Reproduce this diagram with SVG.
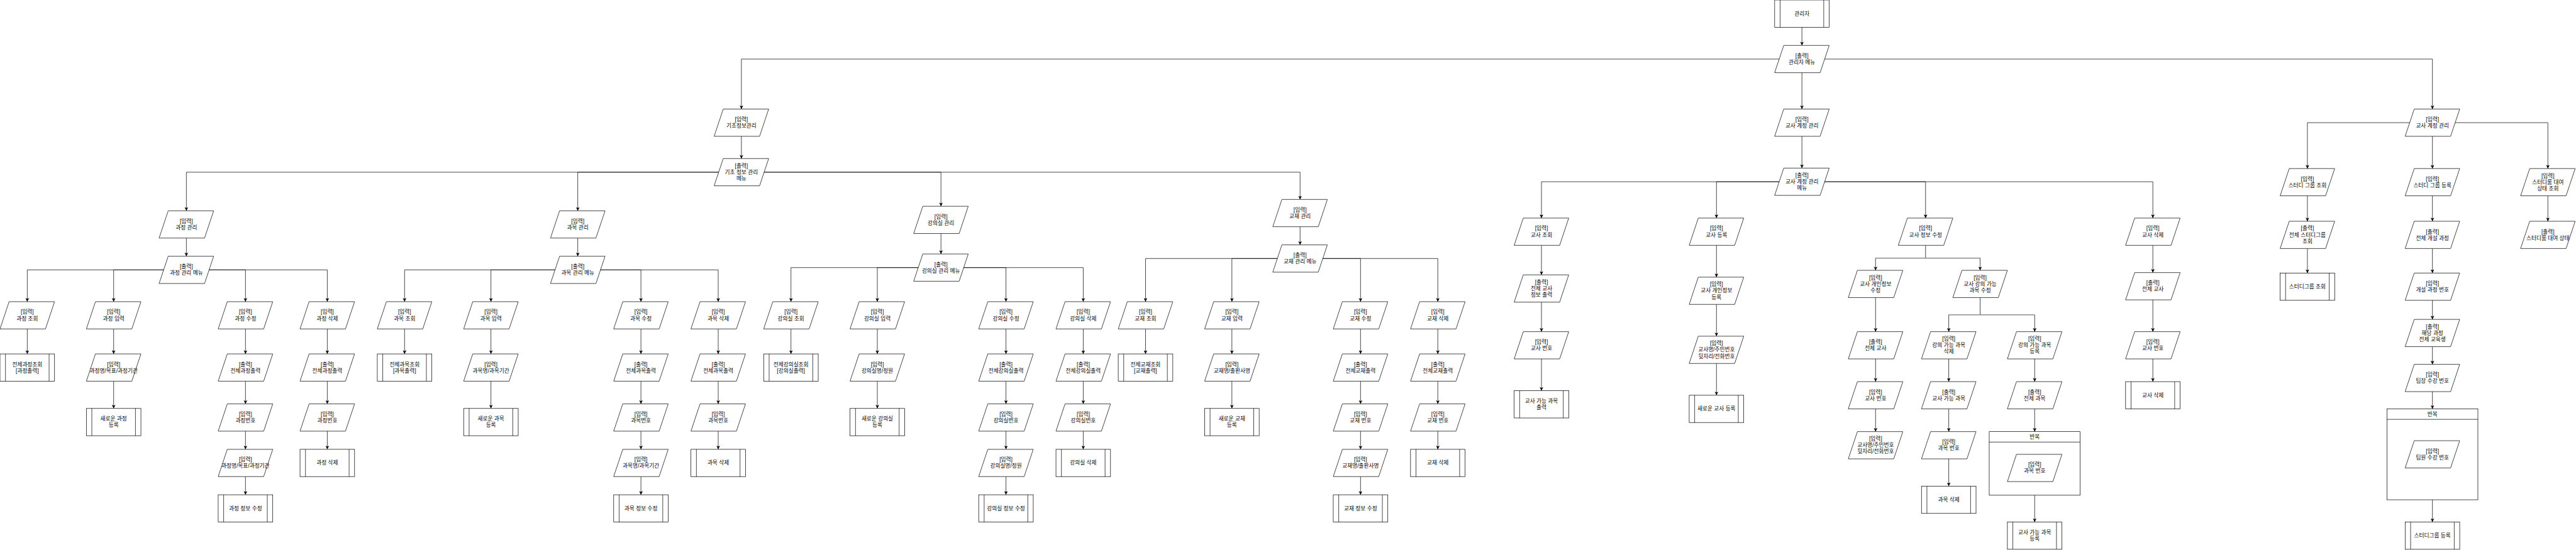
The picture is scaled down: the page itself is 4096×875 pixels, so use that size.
<svg xmlns="http://www.w3.org/2000/svg" xmlns:xlink="http://www.w3.org/1999/xlink" width="4096" height="875" viewBox="0 0 4096 875">
<style>
.s{fill:#fff;stroke:#000;stroke-width:1}
.c path{fill:none;stroke:#000;stroke-width:1;marker-end:url(#ar)}
.c path.n{marker-end:none}
.c path.g{marker-end:none;stroke:#777;stroke-width:1.6}
text{font-family:"Liberation Sans","Noto Sans CJK KR",sans-serif;font-size:12px;text-anchor:middle;fill:#000}
</style>
<defs>
<path id="pa" d="M20,0 H120 L100,60 H0 Z"/>
<g id="pp"><rect width="120" height="60"/><path d="M12,0 V60 M108,0 V60"/></g>
<marker id="ar" viewBox="0 0 8 8" refX="8" refY="4" markerWidth="8" markerHeight="8" orient="auto" markerUnits="userSpaceOnUse"><path d="M0,0 L8,4 L0,8 L2,4 Z" fill="#000"/></marker>
</defs>
<rect width="4096" height="875" fill="#fff"/>
<g transform="scale(0.7228)">
<g class="c" id="connectors">
<path d="M3964,60 V100"/>
<path d="M3964,130 H1631 V240"/>
<path d="M3964,160 V240"/>
<path d="M3964,130 H5351 V240"/>
<path d="M1631,300 V349"/>
<path d="M3964,300 V370"/>
<path d="M1631,379 H410 V464"/>
<path d="M1631,379 H1271 V464"/>
<path d="M1631,379 H2070 V454"/>
<path d="M1631,379 H2860 V439"/>
<path d="M410,524 V564"/>
<path d="M410,594 H60 V664"/>
<path d="M410,594 H250 V664"/>
<path d="M410,594 H540 V664"/>
<path d="M410,594 H720 V664"/>
<path d="M60,724 V779"/>
<path d="M250,724 V779"/>
<path d="M250,839 V899"/>
<path d="M540,724 V779"/>
<path d="M540,839 V889"/>
<path d="M540,949 V989"/>
<path d="M540,1049 V1089"/>
<path d="M720,724 V779"/>
<path d="M720,839 V889"/>
<path d="M720,949 V989"/>
<path d="M1271,524 V564"/>
<path d="M1271,594 H890 V664"/>
<path d="M1271,594 H1080 V664"/>
<path d="M1271,594 H1410 V664"/>
<path d="M1271,594 H1580 V664"/>
<path d="M890,724 V779"/>
<path d="M1080,724 V779"/>
<path d="M1080,839 V899"/>
<path d="M1410,724 V779"/>
<path d="M1410,839 V889"/>
<path d="M1410,949 V989"/>
<path d="M1410,1049 V1089"/>
<path d="M1580,724 V779"/>
<path d="M1580,839 V889"/>
<path d="M1580,949 V989"/>
<path d="M2070,514 V559"/>
<path d="M2070,589 H1740 V664"/>
<path d="M2070,589 H1930 V664"/>
<path d="M2070,589 H2213 V664"/>
<path d="M2070,589 H2383 V664"/>
<path d="M1740,724 V779"/>
<path d="M1930,724 V779"/>
<path d="M1930,839 V899"/>
<path d="M2213,724 V779"/>
<path d="M2213,839 V889"/>
<path d="M2213,949 V989"/>
<path d="M2213,1049 V1089"/>
<path d="M2383,724 V779"/>
<path d="M2383,839 V889"/>
<path d="M2383,949 V989"/>
<path d="M2860,499 V539"/>
<path d="M2860,569 H2520 V664"/>
<path d="M2860,569 H2710 V664"/>
<path d="M2860,569 H2993 V664"/>
<path d="M2860,569 H3163 V664"/>
<path d="M2520,724 V779"/>
<path d="M2710,724 V779"/>
<path d="M2710,839 V899"/>
<path d="M2993,724 V779"/>
<path d="M2993,839 V889"/>
<path d="M2993,949 V989"/>
<path d="M2993,1049 V1089"/>
<path d="M3163,724 V779"/>
<path d="M3163,839 V889"/>
<path d="M3163,949 V989"/>
<path d="M3964,400 H3391 V480"/>
<path d="M3964,400 H3776 V480"/>
<path d="M3964,400 H4236 V480"/>
<path d="M3964,400 H4736 V480"/>
<path d="M3391,540 V605"/>
<path d="M3391,665 V730"/>
<path d="M3391,790 V860"/>
<path d="M3776,540 V610"/>
<path d="M3776,670 V740"/>
<path d="M3776,800 V870"/>
<path class="n" d="M4236,540 V568"/>
<path class="g" d="M4126,568 H4356"/>
<path d="M4126,568 V595"/>
<path d="M4356,568 V595"/>
<path d="M4126,655 V730"/>
<path d="M4126,790 V840"/>
<path d="M4126,900 V950"/>
<path class="n" d="M4356,655 V693"/>
<path class="g" d="M4287,693 H4476"/>
<path d="M4287,693 V730"/>
<path d="M4476,693 V730"/>
<path d="M4287,790 V840"/>
<path d="M4287,900 V950"/>
<path d="M4287,1010 V1070"/>
<path d="M4476,790 V840"/>
<path d="M4476,900 V950"/>
<path d="M4476,973 V1000"/>
<path d="M4476,1090 V1149"/>
<path d="M4736,540 V600"/>
<path d="M4736,660 V730"/>
<path d="M4736,790 V840"/>
<path d="M5351,270 H5076 V371"/>
<path d="M5351,300 V371"/>
<path d="M5351,270 H5605 V371"/>
<path d="M5076,431 V487"/>
<path d="M5076,547 V601"/>
<path d="M5351,431 V487"/>
<path d="M5351,547 V601"/>
<path d="M5351,661 V703"/>
<path d="M5351,763 V802"/>
<path d="M5351,862 V900"/>
<path d="M5351,923 V970"/>
<path d="M5351,1100 V1149"/>
<path d="M5605,431 V487"/>
</g>

<g id="n_admin"><use href="#pp" class="s" x="3904" y="0"/><text x="3964" y="34">관리자</text></g>
<g id="n_admin_menu"><use href="#pa" class="s" x="3904" y="100"/><text x="3964" y="127">[출력]<tspan x="3964" dy="14">관리자 메뉴</tspan></text></g>
<g id="n_basic"><use href="#pa" class="s" x="1571" y="240"/><text x="1631" y="267">[입력]<tspan x="1631" dy="14">기초정보관리</tspan></text></g>
<g id="n_basic_menu"><use href="#pa" class="s" x="1571" y="349"/><text x="1631" y="369">[출력]<tspan x="1631" dy="14">기초 정보 관리</tspan><tspan x="1631" dy="14">메뉴</tspan></text></g>
<g id="n_tacct"><use href="#pa" class="s" x="3904" y="240"/><text x="3964" y="267">[입력]<tspan x="3964" dy="14">교사 계정 관리</tspan></text></g>
<g id="n_tacct_menu"><use href="#pa" class="s" x="3904" y="370"/><text x="3964" y="390">[출력]<tspan x="3964" dy="14">교사 계정 관리</tspan><tspan x="3964" dy="14">메뉴</tspan></text></g>
<g id="n_study"><use href="#pa" class="s" x="5291" y="240"/><text x="5351" y="267">[입력]<tspan x="5351" dy="14">교사 계정 관리</tspan></text></g>

<g id="c_mgmt"><use href="#pa" class="s" x="350" y="464"/><text x="410" y="491">[입력]<tspan x="410" dy="14">과정 관리</tspan></text></g>
<g id="c_menu"><use href="#pa" class="s" x="350" y="564"/><text x="410" y="591">[출력]<tspan x="410" dy="14">과정 관리 메뉴</tspan></text></g>
<g id="c_view"><use href="#pa" class="s" x="0" y="664"/><text x="60" y="691">[입력]<tspan x="60" dy="14">과정 조회</tspan></text></g>
<g id="c_view_all"><use href="#pp" class="s" x="0" y="779"/><text x="60" y="806">전체과정조회<tspan x="60" dy="14">[과정출력]</tspan></text></g>
<g id="c_add"><use href="#pa" class="s" x="190" y="664"/><text x="250" y="691">[입력]<tspan x="250" dy="14">과정 입력</tspan></text></g>
<g id="c_add_in"><use href="#pa" class="s" x="190" y="779"/><text x="250" y="806">[입력]<tspan x="250" dy="14">과정명/목표/과정기간</tspan></text></g>
<g id="c_add_new"><use href="#pp" class="s" x="190" y="899"/><text x="250" y="926">새로운 과정<tspan x="250" dy="14">등록</tspan></text></g>
<g id="c_edit"><use href="#pa" class="s" x="480" y="664"/><text x="540" y="691">[입력]<tspan x="540" dy="14">과정 수정</tspan></text></g>
<g id="c_edit_out"><use href="#pa" class="s" x="480" y="779"/><text x="540" y="806">[출력]<tspan x="540" dy="14">전체과정출력</tspan></text></g>
<g id="c_edit_no"><use href="#pa" class="s" x="480" y="889"/><text x="540" y="916">[입력]<tspan x="540" dy="14">과정번호</tspan></text></g>
<g id="c_edit_in"><use href="#pa" class="s" x="480" y="989"/><text x="540" y="1016">[입력]<tspan x="540" dy="14">과정명/목표/과정기간</tspan></text></g>
<g id="c_edit_do"><use href="#pp" class="s" x="480" y="1089"/><text x="540" y="1123">과정 정보 수정</text></g>
<g id="c_del"><use href="#pa" class="s" x="660" y="664"/><text x="720" y="691">[입력]<tspan x="720" dy="14">과정 삭제</tspan></text></g>
<g id="c_del_out"><use href="#pa" class="s" x="660" y="779"/><text x="720" y="806">[출력]<tspan x="720" dy="14">전체과정출력</tspan></text></g>
<g id="c_del_no"><use href="#pa" class="s" x="660" y="889"/><text x="720" y="916">[입력]<tspan x="720" dy="14">과정번호</tspan></text></g>
<g id="c_del_do"><use href="#pp" class="s" x="660" y="989"/><text x="720" y="1023">과정 삭제</text></g>

<g id="s_mgmt"><use href="#pa" class="s" x="1211" y="464"/><text x="1271" y="491">[입력]<tspan x="1271" dy="14">과목 관리</tspan></text></g>
<g id="s_menu"><use href="#pa" class="s" x="1211" y="564"/><text x="1271" y="591">[출력]<tspan x="1271" dy="14">과목 관리 메뉴</tspan></text></g>
<g id="s_view"><use href="#pa" class="s" x="830" y="664"/><text x="890" y="691">[입력]<tspan x="890" dy="14">과목 조회</tspan></text></g>
<g id="s_view_all"><use href="#pp" class="s" x="830" y="779"/><text x="890" y="806">전체과목조회<tspan x="890" dy="14">[과목출력]</tspan></text></g>
<g id="s_add"><use href="#pa" class="s" x="1020" y="664"/><text x="1080" y="691">[입력]<tspan x="1080" dy="14">과목 입력</tspan></text></g>
<g id="s_add_in"><use href="#pa" class="s" x="1020" y="779"/><text x="1080" y="806">[입력]<tspan x="1080" dy="14">과목명/과목기간</tspan></text></g>
<g id="s_add_new"><use href="#pp" class="s" x="1020" y="899"/><text x="1080" y="926">새로운 과목<tspan x="1080" dy="14">등록</tspan></text></g>
<g id="s_edit"><use href="#pa" class="s" x="1350" y="664"/><text x="1410" y="691">[입력]<tspan x="1410" dy="14">과목 수정</tspan></text></g>
<g id="s_edit_out"><use href="#pa" class="s" x="1350" y="779"/><text x="1410" y="806">[출력]<tspan x="1410" dy="14">전체과목출력</tspan></text></g>
<g id="s_edit_no"><use href="#pa" class="s" x="1350" y="889"/><text x="1410" y="916">[입력]<tspan x="1410" dy="14">과목번호</tspan></text></g>
<g id="s_edit_in"><use href="#pa" class="s" x="1350" y="989"/><text x="1410" y="1016">[입력]<tspan x="1410" dy="14">과목명/과목기간</tspan></text></g>
<g id="s_edit_do"><use href="#pp" class="s" x="1350" y="1089"/><text x="1410" y="1123">과목 정보 수정</text></g>
<g id="s_del"><use href="#pa" class="s" x="1520" y="664"/><text x="1580" y="691">[입력]<tspan x="1580" dy="14">과목 삭제</tspan></text></g>
<g id="s_del_out"><use href="#pa" class="s" x="1520" y="779"/><text x="1580" y="806">[출력]<tspan x="1580" dy="14">전체과목출력</tspan></text></g>
<g id="s_del_no"><use href="#pa" class="s" x="1520" y="889"/><text x="1580" y="916">[입력]<tspan x="1580" dy="14">과목번호</tspan></text></g>
<g id="s_del_do"><use href="#pp" class="s" x="1520" y="989"/><text x="1580" y="1023">과목 삭제</text></g>

<g id="r_mgmt"><use href="#pa" class="s" x="2010" y="454"/><text x="2070" y="481">[입력]<tspan x="2070" dy="14">강의실 관리</tspan></text></g>
<g id="r_menu"><use href="#pa" class="s" x="2010" y="559"/><text x="2070" y="586">[출력]<tspan x="2070" dy="14">강의실 관리 메뉴</tspan></text></g>
<g id="r_view"><use href="#pa" class="s" x="1680" y="664"/><text x="1740" y="691">[입력]<tspan x="1740" dy="14">강의실 조회</tspan></text></g>
<g id="r_view_all"><use href="#pp" class="s" x="1680" y="779"/><text x="1740" y="806">전체강의실조회<tspan x="1740" dy="14">[강의실출력]</tspan></text></g>
<g id="r_add"><use href="#pa" class="s" x="1870" y="664"/><text x="1930" y="691">[입력]<tspan x="1930" dy="14">강의실 입력</tspan></text></g>
<g id="r_add_in"><use href="#pa" class="s" x="1870" y="779"/><text x="1930" y="806">[입력]<tspan x="1930" dy="14">강의실명/정원</tspan></text></g>
<g id="r_add_new"><use href="#pp" class="s" x="1870" y="899"/><text x="1930" y="926">새로운 강의실<tspan x="1930" dy="14">등록</tspan></text></g>
<g id="r_edit"><use href="#pa" class="s" x="2153" y="664"/><text x="2213" y="691">[입력]<tspan x="2213" dy="14">강의실 수정</tspan></text></g>
<g id="r_edit_out"><use href="#pa" class="s" x="2153" y="779"/><text x="2213" y="806">[출력]<tspan x="2213" dy="14">전체강의실출력</tspan></text></g>
<g id="r_edit_no"><use href="#pa" class="s" x="2153" y="889"/><text x="2213" y="916">[입력]<tspan x="2213" dy="14">강의실번호</tspan></text></g>
<g id="r_edit_in"><use href="#pa" class="s" x="2153" y="989"/><text x="2213" y="1016">[입력]<tspan x="2213" dy="14">강의실명/정원</tspan></text></g>
<g id="r_edit_do"><use href="#pp" class="s" x="2153" y="1089"/><text x="2213" y="1123">강의실 정보 수정</text></g>
<g id="r_del"><use href="#pa" class="s" x="2323" y="664"/><text x="2383" y="691">[입력]<tspan x="2383" dy="14">강의실 삭제</tspan></text></g>
<g id="r_del_out"><use href="#pa" class="s" x="2323" y="779"/><text x="2383" y="806">[출력]<tspan x="2383" dy="14">전체강의실출력</tspan></text></g>
<g id="r_del_no"><use href="#pa" class="s" x="2323" y="889"/><text x="2383" y="916">[입력]<tspan x="2383" dy="14">강의실번호</tspan></text></g>
<g id="r_del_do"><use href="#pp" class="s" x="2323" y="989"/><text x="2383" y="1023">강의실 삭제</text></g>

<g id="b_mgmt"><use href="#pa" class="s" x="2800" y="439"/><text x="2860" y="466">[입력]<tspan x="2860" dy="14">교재 관리</tspan></text></g>
<g id="b_menu"><use href="#pa" class="s" x="2800" y="539"/><text x="2860" y="566">[출력]<tspan x="2860" dy="14">교재 관리 메뉴</tspan></text></g>
<g id="b_view"><use href="#pa" class="s" x="2460" y="664"/><text x="2520" y="691">[입력]<tspan x="2520" dy="14">교재 조회</tspan></text></g>
<g id="b_view_all"><use href="#pp" class="s" x="2460" y="779"/><text x="2520" y="806">전체교재조회<tspan x="2520" dy="14">[교재출력]</tspan></text></g>
<g id="b_add"><use href="#pa" class="s" x="2650" y="664"/><text x="2710" y="691">[입력]<tspan x="2710" dy="14">교재 입력</tspan></text></g>
<g id="b_add_in"><use href="#pa" class="s" x="2650" y="779"/><text x="2710" y="806">[입력]<tspan x="2710" dy="14">교재명/출판사명</tspan></text></g>
<g id="b_add_new"><use href="#pp" class="s" x="2650" y="899"/><text x="2710" y="926">새로운 교재<tspan x="2710" dy="14">등록</tspan></text></g>
<g id="b_edit"><use href="#pa" class="s" x="2933" y="664"/><text x="2993" y="691">[입력]<tspan x="2993" dy="14">교재 수정</tspan></text></g>
<g id="b_edit_out"><use href="#pa" class="s" x="2933" y="779"/><text x="2993" y="806">[출력]<tspan x="2993" dy="14">전체교재출력</tspan></text></g>
<g id="b_edit_no"><use href="#pa" class="s" x="2933" y="889"/><text x="2993" y="916">[입력]<tspan x="2993" dy="14">교재 번호</tspan></text></g>
<g id="b_edit_in"><use href="#pa" class="s" x="2933" y="989"/><text x="2993" y="1016">[입력]<tspan x="2993" dy="14">교재명/출판사명</tspan></text></g>
<g id="b_edit_do"><use href="#pp" class="s" x="2933" y="1089"/><text x="2993" y="1123">교재 정보 수정</text></g>
<g id="b_del"><use href="#pa" class="s" x="3103" y="664"/><text x="3163" y="691">[입력]<tspan x="3163" dy="14">교재 삭제</tspan></text></g>
<g id="b_del_out"><use href="#pa" class="s" x="3103" y="779"/><text x="3163" y="806">[출력]<tspan x="3163" dy="14">전체교재출력</tspan></text></g>
<g id="b_del_no"><use href="#pa" class="s" x="3103" y="889"/><text x="3163" y="916">[입력]<tspan x="3163" dy="14">교재 번호</tspan></text></g>
<g id="b_del_do"><use href="#pp" class="s" x="3103" y="989"/><text x="3163" y="1023">교재 삭제</text></g>

<g id="t_view"><use href="#pa" class="s" x="3331" y="480"/><text x="3391" y="507">[입력]<tspan x="3391" dy="14">교사 조회</tspan></text></g>
<g id="t_view_out"><use href="#pa" class="s" x="3331" y="605"/><text x="3391" y="625">[출력]<tspan x="3391" dy="14">전체 교사</tspan><tspan x="3391" dy="14">정보 출력</tspan></text></g>
<g id="t_view_no"><use href="#pa" class="s" x="3331" y="730"/><text x="3391" y="757">[입력]<tspan x="3391" dy="14">교사 번호</tspan></text></g>
<g id="t_view_do"><use href="#pp" class="s" x="3331" y="860"/><text x="3391" y="887">교사 가능 과목<tspan x="3391" dy="14">출력</tspan></text></g>
<g id="t_add"><use href="#pa" class="s" x="3716" y="480"/><text x="3776" y="507">[입력]<tspan x="3776" dy="14">교사 등록</tspan></text></g>
<g id="t_add_info"><use href="#pa" class="s" x="3716" y="610"/><text x="3776" y="630">[입력]<tspan x="3776" dy="14">교사 개인정보</tspan><tspan x="3776" dy="14">등록</tspan></text></g>
<g id="t_add_in"><use href="#pa" class="s" x="3716" y="740"/><text x="3776" y="760">[입력]<tspan x="3776" dy="14">교사명/주민번호</tspan><tspan x="3776" dy="14">뒷자리/전화번호</tspan></text></g>
<g id="t_add_new"><use href="#pp" class="s" x="3716" y="870"/><text x="3776" y="904">새로운 교사 등록</text></g>
<g id="t_edit"><use href="#pa" class="s" x="4176" y="480"/><text x="4236" y="507">[입력]<tspan x="4236" dy="14">교사 정보 수정</tspan></text></g>
<g id="t_edit_info"><use href="#pa" class="s" x="4066" y="595"/><text x="4126" y="615">[입력]<tspan x="4126" dy="14">교사 개인정보</tspan><tspan x="4126" dy="14">수정</tspan></text></g>
<g id="t_edit_info_out"><use href="#pa" class="s" x="4066" y="730"/><text x="4126" y="757">[출력]<tspan x="4126" dy="14">전체 교사</tspan></text></g>
<g id="t_edit_info_no"><use href="#pa" class="s" x="4066" y="840"/><text x="4126" y="867">[입력]<tspan x="4126" dy="14">교사 번호</tspan></text></g>
<g id="t_edit_info_in"><use href="#pa" class="s" x="4066" y="950"/><text x="4126" y="970">[입력]<tspan x="4126" dy="14">교사명/주민번호</tspan><tspan x="4126" dy="14">뒷자리/전화번호</tspan></text></g>
<g id="t_edit_subj"><use href="#pa" class="s" x="4296" y="595"/><text x="4356" y="615">[입력]<tspan x="4356" dy="14">교사 강의 가능</tspan><tspan x="4356" dy="14">과목 수정</tspan></text></g>
<g id="t_subj_del"><use href="#pa" class="s" x="4227" y="730"/><text x="4287" y="750">[입력]<tspan x="4287" dy="14">강의 가능 과목</tspan><tspan x="4287" dy="14">삭제</tspan></text></g>
<g id="t_subj_del_out"><use href="#pa" class="s" x="4227" y="840"/><text x="4287" y="867">[출력]<tspan x="4287" dy="14">교사 가능 과목</tspan></text></g>
<g id="t_subj_del_no"><use href="#pa" class="s" x="4227" y="950"/><text x="4287" y="977">[입력]<tspan x="4287" dy="14">과목 번호</tspan></text></g>
<g id="t_subj_del_do"><use href="#pp" class="s" x="4227" y="1070"/><text x="4287" y="1104">과목 삭제</text></g>
<g id="t_subj_add"><use href="#pa" class="s" x="4416" y="730"/><text x="4476" y="750">[입력]<tspan x="4476" dy="14">강의 가능 과목</tspan><tspan x="4476" dy="14">등록</tspan></text></g>
<g id="t_subj_add_out"><use href="#pa" class="s" x="4416" y="840"/><text x="4476" y="867">[출력]<tspan x="4476" dy="14">전체 과목</tspan></text></g>
<g id="t_loop"><rect class="s" x="4376" y="950" width="200" height="140"/><path d="M4376,973 H4576" stroke="#000" fill="none"/><text x="4476" y="966">반복</text></g>
<g id="t_subj_add_no"><use href="#pa" class="s" x="4416" y="1000"/><text x="4476" y="1027">[입력]<tspan x="4476" dy="14">과목 번호</tspan></text></g>
<g id="t_subj_add_do"><use href="#pp" class="s" x="4416" y="1149"/><text x="4476" y="1176">교사 가능 과목<tspan x="4476" dy="14">등록</tspan></text></g>
<g id="t_del"><use href="#pa" class="s" x="4676" y="480"/><text x="4736" y="507">[입력]<tspan x="4736" dy="14">교사 삭제</tspan></text></g>
<g id="t_del_out"><use href="#pa" class="s" x="4676" y="600"/><text x="4736" y="627">[출력]<tspan x="4736" dy="14">전체 교사</tspan></text></g>
<g id="t_del_no"><use href="#pa" class="s" x="4676" y="730"/><text x="4736" y="757">[입력]<tspan x="4736" dy="14">교사 번호</tspan></text></g>
<g id="t_del_do"><use href="#pp" class="s" x="4676" y="840"/><text x="4736" y="874">교사 삭제</text></g>

<g id="g_view"><use href="#pa" class="s" x="5016" y="371"/><text x="5076" y="398">[입력]<tspan x="5076" dy="14">스터디 그룹 조회</tspan></text></g>
<g id="g_view_out"><use href="#pa" class="s" x="5016" y="487"/><text x="5076" y="507">[출력]<tspan x="5076" dy="14">전체 스터디그룹</tspan><tspan x="5076" dy="14">조회</tspan></text></g>
<g id="g_view_do"><use href="#pp" class="s" x="5016" y="601"/><text x="5076" y="635">스터디그룹 조회</text></g>
<g id="g_add"><use href="#pa" class="s" x="5291" y="371"/><text x="5351" y="398">[입력]<tspan x="5351" dy="14">스터디 그룹 등록</tspan></text></g>
<g id="g_add_out"><use href="#pa" class="s" x="5291" y="487"/><text x="5351" y="514">[출력]<tspan x="5351" dy="14">전체 개설 과정</tspan></text></g>
<g id="g_add_no"><use href="#pa" class="s" x="5291" y="601"/><text x="5351" y="628">[입력]<tspan x="5351" dy="14">개설 과정 번호</tspan></text></g>
<g id="g_add_students"><use href="#pa" class="s" x="5291" y="703"/><text x="5351" y="723">[출력]<tspan x="5351" dy="14">해당 과정</tspan><tspan x="5351" dy="14">전체 교육생</tspan></text></g>
<g id="g_add_leader"><use href="#pa" class="s" x="5291" y="802"/><text x="5351" y="829">[입력]<tspan x="5351" dy="14">팀장 수강 번호</tspan></text></g>
<g id="g_loop"><rect class="s" x="5251" y="900" width="200" height="200"/><path d="M5251,923 H5451" stroke="#000" fill="none"/><text x="5351" y="916">반복</text></g>
<g id="g_add_member"><use href="#pa" class="s" x="5291" y="970"/><text x="5351" y="997">[입력]<tspan x="5351" dy="14">팀원 수강 번호</tspan></text></g>
<g id="g_add_do"><use href="#pp" class="s" x="5291" y="1149"/><text x="5351" y="1183">스터디그룹 등록</text></g>
<g id="g_room"><use href="#pa" class="s" x="5545" y="371"/><text x="5605" y="391">[입력]<tspan x="5605" dy="14">스터디룸 대여</tspan><tspan x="5605" dy="14">상태 조회</tspan></text></g>
<g id="g_room_out"><use href="#pa" class="s" x="5545" y="487"/><text x="5605" y="514">[출력]<tspan x="5605" dy="14">스터디룸 대여 상태</tspan></text></g>
</g>
</svg>
